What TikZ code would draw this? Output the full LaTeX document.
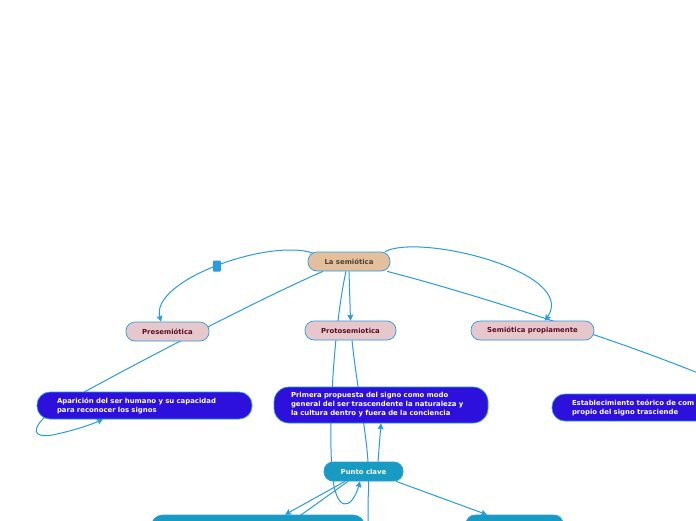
\documentclass[tikz,border=0pt]{standalone}
\usepackage{fontspec}
\setmainfont{DejaVu Sans}
\usetikzlibrary{arrows.meta,backgrounds}
\definecolor{linec}{RGB}{40,155,225}
\definecolor{rootf}{RGB}{228,191,157}
\definecolor{roott}{RGB}{80,62,50}
\definecolor{pinkf}{RGB}{230,200,204}
\definecolor{pinkt}{RGB}{92,12,32}
\definecolor{violf}{RGB}{46,16,220}
\definecolor{tealf}{RGB}{24,155,195}
\begin{document}
\begin{tikzpicture}[x=1pt,y=-1pt,
  base/.style={font=\fontsize{6.9}{9}\selectfont\bfseries, draw=linec, line width=0.7pt, inner sep=0pt},
  pill/.style={base, rounded corners=9pt, minimum height=19pt},
  rootbox/.style={pill, fill=rootf, text=roott},
  pinkbox/.style={pill, fill=pinkf, text=pinkt},
  tealbox/.style={pill, fill=tealf, text=white},
  violbox/.style={base, fill=violf, text=white, align=left, rounded corners=13pt, inner xsep=20pt},
  conn/.style={draw=linec, line width=1pt},
  arr/.style={conn, -{Stealth[length=6pt,width=6pt,inset=1pt]}},
  marker/.style={fill=linec, rounded corners=1pt, minimum width=8pt, minimum height=11pt, inner sep=0pt}
]
\useasboundingbox (0,0) rectangle (696,520);

\node[rootbox, minimum width=82pt] (root) at (349,261.5) {La semiótica};
\node[pinkbox, minimum width=83pt] (pre) at (167.5,331.5) {Presemiótica};
\node[pinkbox, minimum width=91pt] (proto) at (350.5,330.5) {Protosemiotica};
\node[pinkbox, minimum width=123pt] (sem) at (532.5,330.5) {Semiótica propiamente};

\node[violbox, text width=175pt, minimum height=27pt] (apa) at (144.5,405.5)
  {Aparición del ser humano y su capacidad\\para reconocer los signos};
\node[violbox, text width=180pt, inner xsep=17pt, minimum height=36pt, rounded corners=15pt] (pri) at (381,405)
  {Primera propuesta del signo como modo\\general del ser trascendente la naturaleza y\\la cultura dentro y fuera de la conciencia};
\node[violbox, text width=174pt, minimum height=27pt] (est) at (659,407.5)
  {Establecimiento teórico de com\\propio del signo trasciende};

\node[tealbox, minimum width=79pt] (pc) at (363.5,471.5) {Punto clave};
\node[tealbox, minimum width=214pt, minimum height=27pt, rounded corners=12pt] (bl) at (258,528.5) {};
\node[tealbox, minimum width=97pt] (br) at (514.5,524.5) {};

\coordinate (off1) at (368,560);
\coordinate (off2) at (259,545);

\begin{pgfonlayer}{background}
  \fill[white] (0,0) rectangle (696,520);
  % La semiotica -> Presemiotica (curve with marker)
  \draw[arr] ([xshift=-36pt,yshift=-1.5pt]root.north) .. controls (270,238) and (150,280) .. ([xshift=-6.5pt]pre.north)
     node[marker, pos=0.5] (mk) {};
  % La semiotica -> Aparicion (behind Presemiotica, loop)
  \draw[arr] ([xshift=-26pt]root.south) .. controls (250,303) and (105,380) .. (70,400)
     .. controls (32,420) and (24,442) .. (57,434) .. controls (75,430) and (90,425) .. ([xshift=-41.5pt]apa.south);
  % La semiotica -> Protosemiotica
  \draw[arr] (root.south) -- (proto.north);
  % La semiotica -> Semiotica propiamente (arc)
  \draw[arr] ([xshift=36pt]root.north) .. controls (420,233) and (578,272) .. ([xshift=12.5pt]sem.north);
  % La semiotica -> Establecimiento
  \draw[conn] ([xshift=38pt]root.south) .. controls (480,295) and (680,360) .. ([xshift=85pt]est.north);
  % La semiotica -> Punto clave (loop)
  \draw[arr] ([xshift=-3pt]root.south) .. controls (335,320) and (328,420) .. (332,470)
     .. controls (335,515) and (352,510) .. ([xshift=-3.5pt]pc.south);
  % Protosemiotica -> below
  \draw[conn] ([xshift=1.5pt]proto.south) .. controls (358,400) and (372,450) .. (368,500) -- (off1);
  % Punto clave -> Primera
  \draw[arr] ([xshift=14.5pt]pc.north) -- (pri.south);
  % Punto clave -> bottom nodes
  \draw[arr] ([xshift=-18.5pt]pc.south) -- ([xshift=27pt]bl.north);
  \draw[conn] ([xshift=-15.5pt]pc.south) -- (off2);
  \draw[arr] ([xshift=32.5pt]pc.south) -- ([xshift=-27.5pt]br.north);
\end{pgfonlayer}
\end{tikzpicture}
\end{document}
